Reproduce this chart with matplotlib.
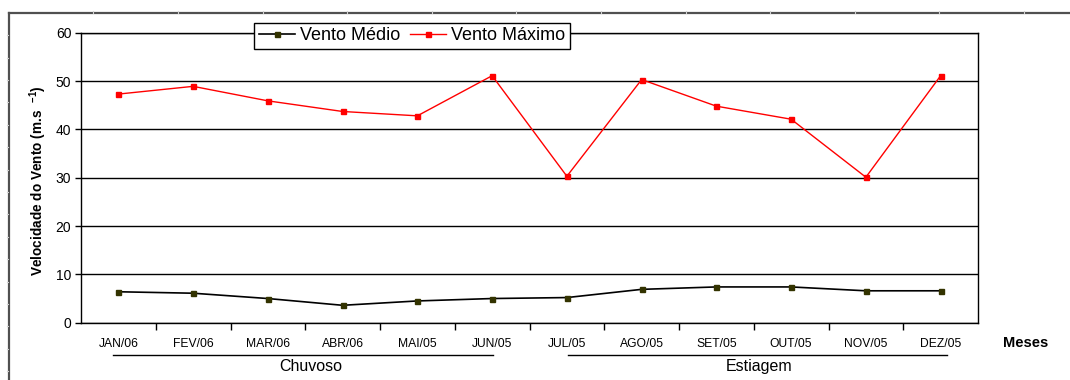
"""Monthly mean and maximum wind speed, rainy vs dry season."""

import matplotlib

matplotlib.use("Agg")
import matplotlib.pyplot as plt
from matplotlib.lines import Line2D

plt.rcParams["font.family"] = ["Liberation Sans", "DejaVu Sans"]
plt.rcParams["mathtext.fontset"] = "custom"
plt.rcParams["mathtext.bf"] = "Liberation Sans:bold"

MONTHS = ["JAN/06", "FEV/06", "MAR/06", "ABR/06", "MAI/05", "JUN/05",
          "JUL/05", "AGO/05", "SET/05", "OUT/05", "NOV/05", "DEZ/05"]
VENTO_MEDIO = [6.4, 6.1, 5.0, 3.6, 4.5, 5.0, 5.2, 6.9, 7.4, 7.4, 6.6, 6.6]
VENTO_MAXIMO = [47.3, 48.9, 45.9, 43.7, 42.8, 51.1, 30.3, 50.3, 44.8, 42.1, 30.1, 51.1]
Y_TICKS = [0, 10, 20, 30, 40, 50, 60]
SEASONS = ["Chuvoso", "Estiagem"]
SEASON_MONTHS = [(0, 5), (6, 11)]

W, H = 1070, 380
# bracket overhang (in category units) left/right of the first/last month
BRACKET_PAD = [(-0.07, 0.01), (0.01, 0.085)]


def main():
    fig = plt.figure(figsize=(W / 100, H / 100), dpi=100)
    fig.patch.set_facecolor("white")
    ax = fig.add_axes([81 / W, 1 - 322.7 / H, (978 - 81) / W, (322.7 - 32.7) / H])

    x = list(range(len(MONTHS)))
    ax.plot(x, VENTO_MEDIO, color="black", lw=1.2, marker="s", ms=3.6,
            mfc="#333300", mec="#333300", zorder=4)
    ax.plot(x, VENTO_MAXIMO, color="#ff0000", lw=1.0, marker="s", ms=3.6,
            mfc="#ff0000", mec="#ff0000", zorder=4)

    ax.set_xlim(-0.5, len(MONTHS) - 0.5)
    ax.set_ylim(0, 60)
    ax.set_yticks(Y_TICKS)
    ax.set_yticklabels([str(v) for v in Y_TICKS], fontsize=10)
    ax.yaxis.grid(True, color="black", lw=1.0)
    ax.set_axisbelow(True)
    ax.tick_params(axis="y", length=4, width=1, pad=3)

    ax.set_xticks([i + 0.5 for i in x[:-1]], minor=False)
    ax.set_xticklabels([])
    ax.tick_params(axis="x", which="major", length=5, width=1, direction="out")
    ax.set_xticks(x, minor=True)
    ax.set_xticklabels(MONTHS, minor=True, fontsize=8.7)
    ax.tick_params(axis="x", which="minor", length=0, pad=11)
    for sp in ax.spines.values():
        sp.set_color("black")
        sp.set_linewidth(1.0)

    fig.text(38 / W, 1 - 181 / H, r"Velocidade do Vento (m.s  $^{\mathbf{-1}}$)",
             rotation=90, ha="center", va="center", fontsize=9.8,
             fontweight="bold")
    fig.text(1026 / W, 1 - 343 / H, "Meses", ha="center", va="center",
             fontsize=10.5, fontweight="bold")

    # season brackets under the month labels
    trans = ax.get_xaxis_transform()
    for name, (i0, i1), (p0, p1) in zip(SEASONS, SEASON_MONTHS, BRACKET_PAD):
        ax.plot([i0 + p0, i1 + p1], [-0.11, -0.11], transform=trans,
                color="black", lw=1.0, clip_on=False)
        ax.text((i0 + i1) / 2 + 0.07, -0.152, name, transform=trans,
                ha="center", va="center", fontsize=11.5)

    handles = [
        Line2D([0], [0], color="black", lw=1.2, marker="s", ms=3.6,
               mfc="#333300", mec="#333300", label="Vento Médio"),
        Line2D([0], [0], color="#ff0000", lw=1.0, marker="s", ms=3.6,
               mfc="#ff0000", mec="#ff0000", label="Vento Máximo"),
    ]
    leg = fig.legend(handles=handles, loc="center", ncol=2, fontsize=13,
                     bbox_to_anchor=(412 / W, 1 - 36 / H), frameon=True,
                     fancybox=False, handlelength=2.0, handletextpad=0.3,
                     columnspacing=0.5, borderpad=0.25, borderaxespad=0)
    leg.get_frame().set_edgecolor("black")
    leg.get_frame().set_linewidth(1.0)
    leg.get_frame().set_alpha(1)

    # outer worksheet frame with ruler marks
    fig.add_artist(Line2D([8.7 / W, 1], [1 - 12.7 / H] * 2, color="#505050", lw=1.6))
    fig.add_artist(Line2D([8.7 / W] * 2, [0, 1 - 12.7 / H], color="#505050", lw=1.6))
    px = 8.7 + 84.6
    while px < W:
        fig.add_artist(Line2D([px / W] * 2, [1 - 12.7 / H, 1 - 10.5 / H],
                              color="#d0d0d0", lw=0.8))
        px += 84.6
    py = 12.7 + 22.4
    while py < H:
        fig.add_artist(Line2D([6.5 / W, 8.0 / W], [1 - py / H] * 2,
                              color="#d0d0d0", lw=0.8))
        py += 22.4

    fig.savefig("out.png", dpi=100, facecolor="white")
    plt.close(fig)


if __name__ == "__main__":
    main()
